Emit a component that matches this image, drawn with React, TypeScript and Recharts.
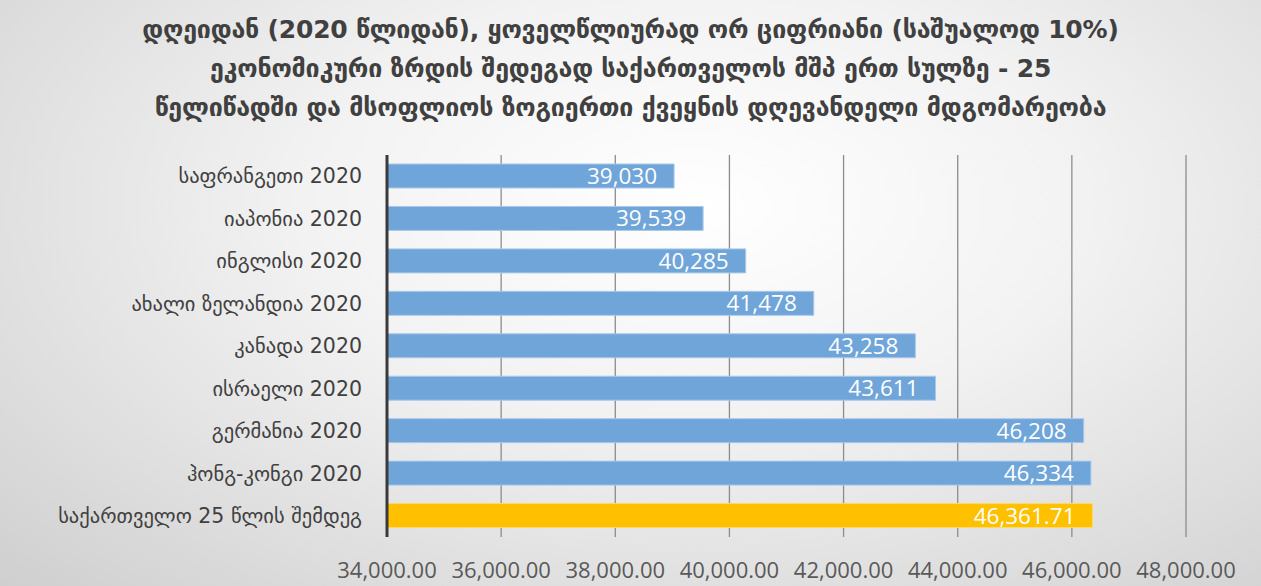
import React from "react";
import { Bar, BarChart, CartesianGrid, Cell, LabelList, XAxis, YAxis } from "recharts";

const countries = [
  "საფრანგეთი 2020",
  "იაპონია 2020",
  "ინგლისი 2020",
  "ახალი ზელანდია 2020",
  "კანადა  2020",
  "ისრაელი 2020",
  "გერმანია 2020",
  "ჰონგ-კონგი 2020",
  "საქართველო 25 წლის შემდეგ",
];

const gdpPerCapita = [39030, 39539, 40285, 41478, 43258, 43611, 46208, 46334, 46361.71];

const xTicks = [34000, 36000, 38000, 40000, 42000, 44000, 46000, 48000];

const titleLines = [
  "დღეიდან (2020 წლიდან), ყოველწლიურად ორ ციფრიანი (საშუალოდ 10%)",
  "ეკონომიკური ზრდის შედეგად საქართველოს მშპ ერთ სულზე - 25",
  "წელიწადში და მსოფლიოს ზოგიერთი ქვეყნის დღევანდელი მდგომარეობა",
];

const data = countries.map((name, i) => ({ name, value: gdpPerCapita[i] }));

const fmtTick = (v: number) =>
  v.toLocaleString("en-US", { minimumFractionDigits: 2, maximumFractionDigits: 2 });

const fmtLabel = (v: number) =>
  Number.isInteger(v)
    ? v.toLocaleString("en-US")
    : v.toLocaleString("en-US", { minimumFractionDigits: 2, maximumFractionDigits: 2 });

export default function App() {
  return (
    <div
      style={{
        position: "absolute",
        left: 0,
        top: 0,
        width: 1261,
        height: 586,
        background: "radial-gradient(ellipse at 55% 35%, #ffffff 0%, #f2f2f2 40%, #cfcfcf 100%)",
        fontFamily: "'DejaVu Sans', sans-serif",
      }}
    >
      <div
        style={{
          position: "absolute",
          top: 10,
          left: 0,
          width: 1261,
          textAlign: "center",
          fontWeight: "bold",
          fontSize: 25,
          lineHeight: "39px",
          color: "#404040",
          letterSpacing: -0.2,
        }}
      >
        {titleLines.map((l) => (
          <div key={l}>{l}</div>
        ))}
      </div>
      <BarChart
        width={1261}
        height={586}
        data={data}
        layout="vertical"
        margin={{ top: 155, right: 75, bottom: 0, left: 0 }}
        barSize={24}
        style={{ position: "absolute", left: 0, top: 0 }}
      >
        <CartesianGrid horizontal={false} stroke="#8c8c8c" strokeWidth={1.3} />
        <XAxis
          type="number"
          domain={[34000, 48000]}
          ticks={xTicks}
          allowDataOverflow
          tickFormatter={fmtTick}
          axisLine={false}
          tickLine={false}
          height={49}
          tickMargin={19}
          tick={{ fill: "#595959", fontSize: 22, fontFamily: "'Open Sans', sans-serif" }}
        />
        <YAxis
          type="category"
          dataKey="name"
          width={387}
          axisLine={{ stroke: "#3a3a3a", strokeWidth: 3 }}
          tickLine={false}
          tickMargin={19}
          tick={{ fill: "#404040", fontSize: 20.5, fontFamily: "'DejaVu Sans', sans-serif" }}
        />
        <Bar dataKey="value" isAnimationActive={false} stroke="#a9c9ea" strokeWidth={1}>
          {data.map((d, i) => (
            <Cell
              key={d.name}
              fill={i === data.length - 1 ? "#ffc000" : "#6fa5d9"}
              stroke={i === data.length - 1 ? "#ffd966" : "#a9c9ea"}
            />
          ))}
          <LabelList
            dataKey="value"
            position="insideRight"
            offset={17}
            formatter={(v: any) => fmtLabel(Number(v))}
            fill="#ffffff"
            fontSize={22.5}
            fontFamily="'Open Sans', sans-serif"
          />
        </Bar>
      </BarChart>
    </div>
  );
}
